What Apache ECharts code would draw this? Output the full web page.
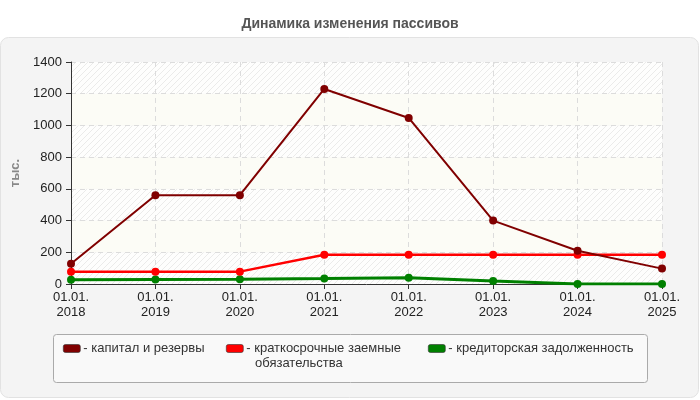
<!DOCTYPE html>
<html><head><meta charset="utf-8">
<script src="https://cdn.jsdelivr.net/npm/echarts@6/dist/echarts.min.js"></script>
<style>html,body{margin:0;padding:0;background:#fff}#c{width:700px;height:400px}</style>
</head><body><div id="c"></div>
<script>
var categories = ['01.01.\n2018','01.01.\n2019','01.01.\n2020','01.01.\n2021','01.01.\n2022','01.01.\n2023','01.01.\n2024','01.01.\n2025'];
var capital = [128, 560, 560, 1230, 1047, 400, 210, 97];
var shortLoans = [78, 78, 78, 185, 185, 185, 185, 185];
var payables = [27, 28, 30, 34, 40, 19, 0, 0];
var seriesNames = ['капитал и резервы', 'краткосрочные заемные обязательства', 'кредиторская задолженность'];
var yTicks = [0, 200, 400, 600, 800, 1000, 1200, 1400];

var pc = document.createElement('canvas');
pc.width = 6; pc.height = 6;
var g = pc.getContext('2d');
g.fillStyle = '#fefefd'; g.fillRect(0,0,6,6);
g.strokeStyle = '#ebebea'; g.lineWidth = 1;
g.beginPath(); g.moveTo(0,6); g.lineTo(6,0); g.stroke();
g.beginPath(); g.moveTo(-1,1); g.lineTo(1,-1); g.stroke();
g.beginPath(); g.moveTo(5,7); g.lineTo(7,5); g.stroke();

var font = 'Arial, "Liberation Sans", sans-serif';
var chart = echarts.init(document.getElementById('c'), null, {renderer:'canvas'});
var colors = ['#800000', '#ff0000', '#008000'];
function mk(i, data, w) {
  return {
    name: seriesNames[i], type: 'line', data: data,
    symbol: 'circle', symbolSize: 8,
    lineStyle: {color: colors[i], width: w},
    itemStyle: {color: colors[i]},
    z: 3 - i
  };
}
function lg(i, left, label) {
  return {
    left: left, top: 342, padding: 0, itemWidth: 17, itemHeight: 8, icon: 'roundRect', itemGap: 3,
    selectedMode: false, data: [seriesNames[i]],
    formatter: function () { return '- ' + label; },
    itemStyle: {borderColor: '#333', borderWidth: 0.6},
    textStyle: {fontFamily: font, fontSize: 13, color: '#333', padding: [0,0,0,-2]}
  };
}
chart.setOption({
  animation: false,
  title: {text: 'Динамика изменения пассивов', left: 'center', top: 12,
    textStyle: {fontFamily: font, fontSize: 14, fontWeight: 'bold', color: '#555'}},
  graphic: [
    {type: 'rect', z: -10, shape: {x: 0.5, y: 37.5, width: 698, height: 360, r: 8},
      style: {fill: '#f4f4f4', stroke: '#e2e2e2', lineWidth: 1}},
    {type: 'rect', z: -5, shape: {x: 53.5, y: 334.5, width: 594, height: 48, r: 3},
      style: {fill: '#f9f9f9', stroke: '#aaaaaa', lineWidth: 1}},
    {type: 'text', z: 5, left: 255, top: 357,
      style: {text: 'обязательства', font: '13px ' + font, fill: '#333'}}
  ],
  color: colors,
  legend: [
    lg(0, 63, 'капитал и резервы'),
    lg(1, 226, 'краткосрочные заемные'),
    lg(2, 428, 'кредиторская задолженность')
  ],
  grid: {left: 71, right: 38, top: 62, bottom: 116, show: false},
  xAxis: {
    type: 'category', data: categories, boundaryGap: false,
    axisLine: {lineStyle: {color: '#333', width: 1}},
    axisTick: {show: true, alignWithLabel: true, length: 5, lineStyle: {color: '#333'}},
    axisLabel: {fontFamily: font, fontSize: 13, color: '#222', lineHeight: 15, margin: 6},
    splitLine: {show: true, lineStyle: {color: '#dcdcdc', type: [5, 4]}}
  },
  yAxis: {
    type: 'value', min: yTicks[0], max: yTicks[yTicks.length-1], interval: 200,
    name: 'тыс.', nameLocation: 'middle', nameGap: 44,
    nameTextStyle: {fontFamily: font, fontSize: 13, fontWeight: 'bold', color: '#888'},
    axisLine: {show: true, lineStyle: {color: '#333'}},
    axisTick: {show: true, length: 5, lineStyle: {color: '#333'}},
    axisLabel: {fontFamily: font, fontSize: 13, color: '#222', margin: 9,
      formatter: function (v) { return String(v); }},
    splitLine: {show: true, lineStyle: {color: '#dcdcdc', type: [5, 4]}},
    splitArea: {show: true, areaStyle: {color: [{image: pc, repeat: 'repeat'}, '#fcfcf6']}}
  },
  series: [mk(0, capital, 2), mk(1, shortLoans, 2.5), mk(2, payables, 3)]
});
</script></body></html>
